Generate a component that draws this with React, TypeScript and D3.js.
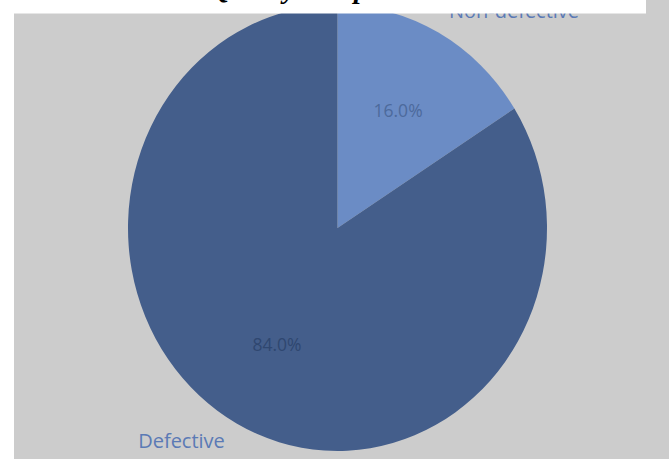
import React from "react";
import * as d3 from "d3";

const categories = ["Non-defective", "Defective"];
const values = [16, 84];
const title = "Quality Sample Results";

const W = 672;
const H = 459;
const cx = 337.5;
const cy = 228;
const rx = 209.5;
const ry = 223;

const sliceColors = ["#6b8cc5", "#445e8b"];
const pctColors = ["#4d6a9c", "#2f4770"];

export default function App() {
  const pie = d3.pie<number>().sort(null).value((d) => d);
  const arcs = pie(values);
  const arc = d3.arc<d3.PieArcDatum<number>>().innerRadius(0).outerRadius(ry);
  const labelArc = d3.arc<d3.PieArcDatum<number>>().innerRadius(ry * 0.6).outerRadius(ry * 0.6);
  const sx = rx / ry;
  const total = d3.sum(values);
  const fmt = d3.format(".1f");
  // outer label baselines (relative to center, in px)
  const outer = [
    { dx: 176.5, dy: -210 },
    { dx: -156, dy: 220 },
  ];
  return (
    <svg
      width={W}
      height={H}
      style={{ position: "absolute", left: 0, top: 0, display: "block" }}
    >
      <rect x={0} y={0} width={W} height={H} fill="#ffffff" />
      <rect x={14} y={0} width={655} height={H} fill="#cccccc" />
      <g transform={`translate(${cx},${cy}) scale(${sx},1)`}>
        {arcs.map((a, i) => (
          <path key={i} d={arc(a) || ""} fill={sliceColors[i]} />
        ))}
      </g>
      {arcs.map((a, i) => {
        const [lx, ly] = labelArc.centroid(a);
        return (
          <text
            key={"p" + i}
            x={cx + lx * sx}
            y={cy + ly}
            dy="0.35em"
            textAnchor="middle"
            fontFamily="'Open Sans', sans-serif"
            fontSize={17.5}
            fill={pctColors[i]}
          >
            {fmt((values[i] / total) * 100)}%
          </text>
        );
      })}
      {categories.map((c, i) => (
        <text
          key={"c" + i}
          x={cx + outer[i].dx}
          y={cy + outer[i].dy}
          textAnchor="middle"
          fontFamily="'Open Sans', sans-serif"
          fontSize={20}
          fill="#5b7ab5"
        >
          {c}
        </text>
      ))}
      <rect x={0} y={0} width={646} height={13.5} fill="#ffffff" />
      <text
        x={210}
        y={-2}
        fontFamily="'Liberation Serif', 'Times New Roman', serif"
        fontWeight="bold"
        fontStyle="italic"
        fontSize={28}
        fill="#000000"
      >
        {title}
      </text>
    </svg>
  );
}
